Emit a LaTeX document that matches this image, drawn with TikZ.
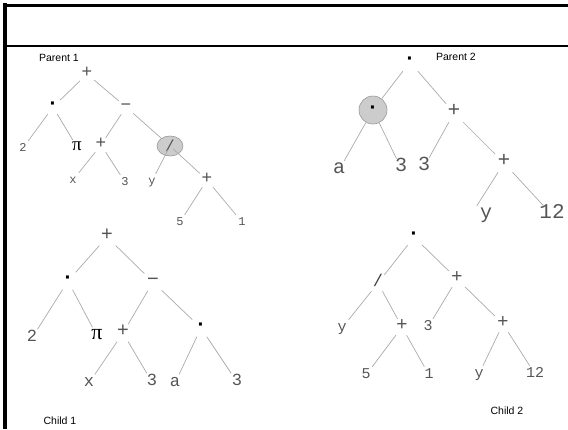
\documentclass[tikz,border=0pt]{standalone}
\usepackage{fontspec}
\setmainfont{Liberation Sans}
\newfontfamily\courierfont{Liberation Mono}
\newfontfamily\serifpi{Liberation Serif}
\usetikzlibrary{positioning,shapes.geometric}
\definecolor{leafgray}{RGB}{85,85,85}
\definecolor{linegray}{RGB}{170,170,170}
\definecolor{circlegray}{RGB}{204,204,204}
\newcommand\fsz[1]{\fontsize{#1}{#1}\selectfont}

\begin{document}
\begin{tikzpicture}[
  x=1pt,y=-1pt,
  every node/.style={inner sep=0pt,text height=0.7em,text depth=0pt},
  lf/.style={font=\courierfont\fsz{#1},text=leafgray},
  op/.style={font=\fsz{#1},text=leafgray},
  piv/.style={font=\serifpi\fsz{#1},text=black},
  dt/.style={font=\bfseries\fsz{#1},text=black},
  sel/.style={fill=circlegray,draw=gray!80,line width=0.6pt,text height=,text depth=},
  lbl/.style={font=\fsz{10.5},text=black,text height=,text depth=},
  ln/.style={draw=linegray,line width=0.7pt},
  linegray]
  \useasboundingbox (0,0) rectangle (568,429);
  % frame of the slide
  \fill[black] (3,3) rectangle (6.5,429);
  \fill[black] (3,3.5) rectangle (568,6.5);
  \draw[black,line width=1.4pt] (3,46) -- (568,46);

  % parent 1
  \node[lbl](lp1) at(59,58){Parent 1};
  \begin{scope}[every node/.append style={minimum size=14pt}]
    \node[op=18](p1r) at(87,74){+};
    \node[dt=21](p1a) at(53,107){·};
    \node[op=18](p1b) at(126,107){−};
    \node[lf=12](p1c) at(23,148){2};
    \node[piv=19](p1d) at(77,147){π};
    \node[op=18](p1e) at(101,145){+};
    \node[sel,ellipse,minimum width=26pt,minimum height=20pt,font=\courierfont\fsz{16},text=leafgray](p1f) at(170,146){/};
    \node[lf=12](p1g) at(73,180){x};
    \node[lf=12](p1h) at(125,182){3};
    \node[lf=12](p1i) at(152,181){y};
    \node[op=18](p1j) at(207,180){+};
    \node[lf=12](p1k) at(180,222){5};
    \node[lf=12](p1l) at(242,222){1};
  \end{scope}
  \draw[ln](p1r)--(p1a);
  \draw[ln](p1r)--(p1b);
  \draw[ln](p1a)--(p1c);
  \draw[ln](p1a)--(p1d);
  \draw[ln](p1b)--(p1e);
  \draw[ln](p1b)--(p1f);
  \draw[ln](p1e)--(p1g);
  \draw[ln](p1e)--(p1h);
  \draw[ln,shorten <=4pt](p1f.center)--(p1i);
  \draw[ln,shorten <=4pt](p1f.center)--(p1j);
  \draw[ln](p1j)--(p1k);
  \draw[ln](p1j)--(p1l);

  % parent 2
  \node[lbl](lp2) at(456,57){Parent 2};
  \begin{scope}[every node/.append style={minimum size=18pt}]
    \node[dt=21](p2r) at(410,62){·};
    \node[sel,circle,minimum size=28pt,font=\bfseries\fsz{21},text=black](p2a) at(373,110){·};
    \node[op=21](p2b) at(454,113){+};
    \node[lf=20](p2c) at(339,170){a};
    \node[lf=20](p2d) at(401,168){3};
    \node[lf=20](p2e) at(424,167){3};
    \node[op=21](p2f) at(504,163){+};
    \node[lf=20](p2g) at(486,215){y};
    \node[lf=21](p2h) at(552,215){12};
  \end{scope}
  \draw[ln](p2r)--(p2a);
  \draw[ln](p2r)--(p2b);
  \draw[ln](p2a)--(p2c);
  \draw[ln](p2a)--(p2d);
  \draw[ln](p2b)--(p2e);
  \draw[ln](p2b)--(p2f);
  \draw[ln](p2f)--(p2g.north west);
  \draw[ln](p2f)--(p2h);

  % child 1
  \node[lbl](lc1) at(60,421){Child 1};
  \begin{scope}[every node/.append style={minimum size=17pt}]
    \node[op=20](c1r) at(107,237){+};
    \node[dt=21](c1a) at(68,281){·};
    \node[op=20](c1b) at(153,282){−};
    \node[lf=17](c1c) at(32,338){2};
    \node[piv=22](c1d) at(97,336){π};
    \node[op=20](c1e) at(123,333){+};
    \node[dt=21](c1f) at(201,328){·};
    \node[lf=17](c1g) at(89,383){x};
    \node[lf=17](c1h) at(152,382){3};
    \node[lf=17](c1i) at(175,383){a};
    \node[lf=17](c1j) at(237,382){3};
  \end{scope}
  \draw[ln](c1r)--(c1a);
  \draw[ln](c1r)--(c1b);
  \draw[ln](c1a)--(c1c);
  \draw[ln](c1a)--(c1d);
  \draw[ln](c1b)--(c1e);
  \draw[ln](c1b)--(c1f);
  \draw[ln](c1e)--(c1g);
  \draw[ln](c1e)--(c1h);
  \draw[ln](c1f)--(c1i);
  \draw[ln](c1f)--(c1j);

  % child 2
  \node[lbl](lc2) at(507,411){Child 2};
  \begin{scope}[every node/.append style={minimum size=16pt}]
    \node[dt=21](c2r) at(414,237){·};
    \node[lf=17,text=black!75](c2a) at(378,283){/};
    \node[op=19](c2b) at(457,279){+};
    \node[lf=15](c2c) at(342,328){y};
    \node[op=19](c2d) at(402,327){+};
    \node[lf=15](c2e) at(428,327){3};
    \node[op=19](c2f) at(503,324){+};
    \node[lf=15](c2g) at(366,375){5};
    \node[lf=15](c2h) at(429,375){1};
    \node[lf=15](c2i) at(479,374){y};
    \node[lf=15](c2j) at(535,374){12};
  \end{scope}
  \draw[ln](c2r)--(c2a);
  \draw[ln](c2r)--(c2b);
  \draw[ln](c2a)--(c2c);
  \draw[ln](c2a)--(c2d);
  \draw[ln](c2b)--(c2e);
  \draw[ln](c2b)--(c2f);
  \draw[ln](c2d)--(c2g);
  \draw[ln](c2d)--(c2h);
  \draw[ln](c2f)--(c2i);
  \draw[ln](c2f)--(c2j);
\end{tikzpicture}
\end{document}
